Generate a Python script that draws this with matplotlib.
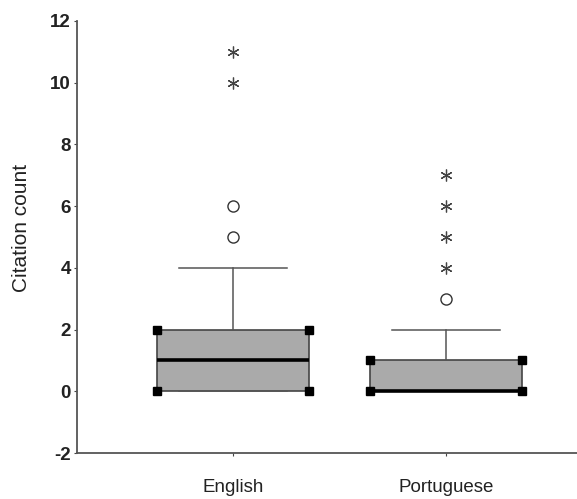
import matplotlib
matplotlib.use('Agg')
import matplotlib.pyplot as plt

plt.rcParams['font.family'] = ['Liberation Sans', 'DejaVu Sans']

# data
categories = ['English', 'Portuguese']
q1 = [0, 0]
medians = [1, 0]
q3 = [2, 1]
whisker_low = [0, 0]
whisker_high = [4, 2]
circle_outliers = [[5, 6], [3]]
star_outliers = [[10, 11], [4, 5, 6, 7]]
yticks = [-2, 0, 2, 4, 6, 8, 10, 12]

positions = [1, 2]
box_w = 0.714
cap_w = 0.507

fig = plt.figure(figsize=(5.77, 4.99), dpi=100)
ax = fig.add_axes([0.1335, 0.092, 0.8665, 0.866])

stats = []
for i, name in enumerate(categories):
    stats.append({'label': name, 'q1': q1[i], 'med': medians[i], 'q3': q3[i],
                  'whislo': whisker_low[i], 'whishi': whisker_high[i], 'fliers': []})

ax.bxp(stats, positions=positions, widths=box_w, patch_artist=True,
       showfliers=False, capwidths=cap_w,
       boxprops=dict(facecolor='#aaaaaa', edgecolor='#444444', linewidth=1.2),
       medianprops=dict(color='black', linewidth=2.6),
       whiskerprops=dict(color='#555555', linewidth=1.1),
       capprops=dict(color='#555555', linewidth=1.1))

# corner squares on the boxes, then the two kinds of outliers
for i, p in enumerate(positions):
    xs = [p - box_w / 2, p + box_w / 2, p - box_w / 2, p + box_w / 2]
    ys = [q1[i], q1[i], q3[i], q3[i]]
    ax.plot(xs, ys, linestyle='none', marker='s', markersize=5.5, color='black', zorder=5)
    ax.plot([p] * len(circle_outliers[i]), circle_outliers[i], linestyle='none', marker='o',
            markersize=8, markerfacecolor='white', markeredgecolor='#333333', markeredgewidth=1.0)
    ax.plot([p] * len(star_outliers[i]), star_outliers[i], linestyle='none', marker=(6, 2, 0),
            markersize=8.5, color='#444444', markeredgewidth=0.9)

ax.set_xlim(0.268, 2.615)
ax.set_ylim(-2, 12)
ax.set_yticks(yticks)
ax.set_yticklabels([str(t) for t in yticks], fontsize=13.5, fontweight='bold', color='#222222')
ax.set_xticks(positions)
ax.set_xticklabels(categories, fontsize=13.5, color='#222222')
ax.tick_params(axis='x', length=2.5, pad=16.5, color='#444444')
ax.tick_params(axis='y', length=2.5, pad=2, color='#444444')
ax.set_ylabel('Citation count', fontsize=15, color='#222222')
ax.yaxis.set_label_coords(-0.092, 0.52)

for s in ['top', 'right']:
    ax.spines[s].set_visible(False)
for s in ['left', 'bottom']:
    ax.spines[s].set_color('#555555')
    ax.spines[s].set_linewidth(1.3)

fig.savefig('out.png', dpi=100)
